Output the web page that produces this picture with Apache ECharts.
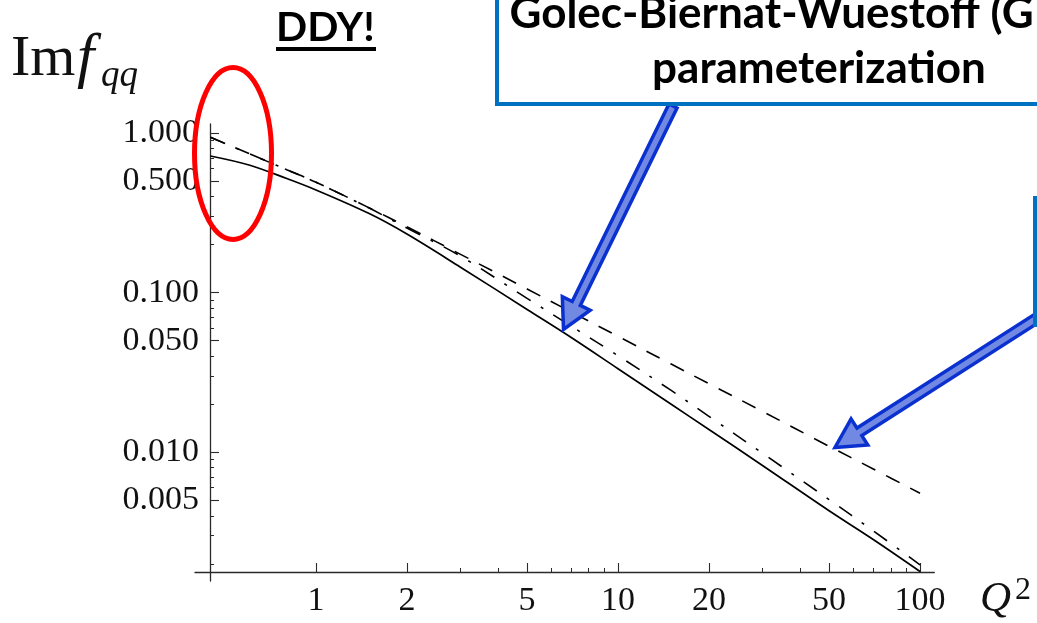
<!DOCTYPE html>
<html>
<head>
<meta charset="utf-8">
<script src="https://cdn.jsdelivr.net/npm/echarts@6/dist/echarts.min.js"></script>
<style>
  html, body { margin: 0; padding: 0; background: #fff; }
  #chart { width: 1037px; height: 623px; }
</style>
</head>
<body>
<div id="chart"></div>
<script>
// Q^2 sample points and the three Im f_qq curves
const q2 = [0.447, 0.6, 0.8, 1, 1.5, 2, 3, 5, 7, 10, 15, 20, 30, 50, 70, 100];
const imSolid = [0.719, 0.631, 0.519, 0.440, 0.313, 0.233, 0.145, 0.0785, 0.0524, 0.0334, 0.0200, 0.0139, 0.0083, 0.0043, 0.00284, 0.00179];
const imDashed = [0.941, 0.744, 0.590, 0.492, 0.340, 0.259, 0.1745, 0.1055, 0.0757, 0.0533, 0.0357, 0.0269, 0.0181, 0.0109, 0.00786, 0.00554];
const imDashDot = [0.941, 0.744, 0.590, 0.492, 0.339, 0.254, 0.170, 0.0921, 0.0617, 0.0403, 0.0244, 0.0168, 0.0099, 0.00505, 0.00322, 0.00197];

const xMajorTicks = [1, 2, 5, 10, 20, 50, 100];
const xMinorTicks = [3, 4, 6, 7, 8, 9, 30, 40, 60, 70, 80, 90];
const yMajorTicks = [0.005, 0.01, 0.05, 0.1, 0.5, 1];
const yMinorTicks = [0.002, 0.003, 0.004, 0.006, 0.007, 0.008, 0.009,
  0.02, 0.03, 0.04, 0.06, 0.07, 0.08, 0.09,
  0.2, 0.3, 0.4, 0.6, 0.7, 0.8, 0.9];

const X_MIN = 0.3975, X_MAX = 111.5;
const Y_MIN = 0.001561, Y_MAX = 1.1403;

const SERIF = '"Liberation Serif", "DejaVu Serif", serif';
const SANS = 'Lato, "Open Sans", sans-serif';
const AXIS_COLOR = '#2a2a2a';
const log10 = Math.log10;

const chart = echarts.init(document.getElementById('chart'));

function pairs(ys) {
  return q2.map((x, i) => [x, ys[i]]);
}

// block arrow polygon from (x0,y0) to tip (x1,y1)
function blockArrow(x0, y0, x1, y1) {
  const dx = x1 - x0, dy = y1 - y0, L = Math.hypot(dx, dy);
  const ux = dx / L, uy = dy / L, nx = -uy, ny = ux;
  const sw = 4.5, hw = 15.5, hl = 29;
  const bx = x1 - ux * hl, by = y1 - uy * hl;
  return [
    [x0 + nx * sw, y0 + ny * sw], [bx + nx * sw, by + ny * sw], [bx + nx * hw, by + ny * hw],
    [x1, y1],
    [bx - nx * hw, by - ny * hw], [bx - nx * sw, by - ny * sw], [x0 - nx * sw, y0 - ny * sw]
  ];
}

// value axes in log10 space that only carry ticks/labels for the log data axes
function tickAxis(dim, extra) {
  const lo = dim === 'x' ? log10(X_MIN) : log10(Y_MIN);
  const hi = dim === 'x' ? log10(X_MAX) : log10(Y_MAX);
  return Object.assign({
    type: 'value', min: lo, max: hi,
    position: dim === 'x' ? 'bottom' : 'left',
    offset: dim === 'x' ? -9 : -15,
    splitLine: { show: false },
    axisLine: { show: false, onZero: false },
    axisLabel: { show: false }
  }, extra);
}

const arrowStyle = { fill: '#7189e2', stroke: '#0a31cf', lineWidth: 3.5, lineJoin: 'miter' };
const boxStyle = { fill: 'transparent', stroke: '#0070c0', lineWidth: 4 };

chart.setOption({
  animation: false,
  backgroundColor: '#fff',
  grid: { left: 195, top: 124, width: 739.3, height: 457, containLabel: false, outerBoundsMode: 'none' },
  xAxis: [
    { type: 'log', min: X_MIN, max: X_MAX, show: false },
    tickAxis('x', {
      axisLine: { show: true, onZero: false, lineStyle: { color: AXIS_COLOR, width: 1.3 } },
      axisTick: { inside: true, length: 9, customValues: xMajorTicks.map(log10), lineStyle: { color: AXIS_COLOR, width: 1.1 } },
      axisLabel: {
        show: true, customValues: xMajorTicks.map(log10), margin: 12,
        fontFamily: SERIF, fontSize: 34, color: '#111',
        formatter: v => String(Math.round(Math.pow(10, v)))
      }
    }),
    tickAxis('x', {
      axisTick: { inside: true, length: 4, customValues: xMinorTicks.map(log10), lineStyle: { color: AXIS_COLOR, width: 1 } }
    })
  ],
  yAxis: [
    { type: 'log', min: Y_MIN, max: Y_MAX, show: false },
    tickAxis('y', {
      axisLine: { show: true, onZero: false, lineStyle: { color: AXIS_COLOR, width: 1.3 } },
      axisTick: { inside: true, length: 9, customValues: yMajorTicks.map(log10), lineStyle: { color: AXIS_COLOR, width: 1.1 } },
      axisLabel: {
        show: true, customValues: yMajorTicks.map(log10), margin: 11,
        fontFamily: SERIF, fontSize: 34, color: '#111',
        formatter: v => Math.pow(10, v).toFixed(3)
      }
    }),
    tickAxis('y', {
      axisTick: { inside: true, length: 4, customValues: yMinorTicks.map(log10), lineStyle: { color: AXIS_COLOR, width: 1 } }
    })
  ],
  series: [
    {
      name: 'solid', type: 'line', xAxisIndex: 0, yAxisIndex: 0, data: pairs(imSolid),
      symbol: 'none', smooth: 0.35, lineStyle: { color: '#000', width: 1.7 }, z: 3
    },
    {
      name: 'dashed', type: 'line', xAxisIndex: 0, yAxisIndex: 0, data: pairs(imDashed),
      symbol: 'none', smooth: 0.35, lineStyle: { color: '#000', width: 1.6, type: [15, 12] }, z: 3
    },
    {
      name: 'dashdot', type: 'line', xAxisIndex: 0, yAxisIndex: 0, data: pairs(imDashDot),
      symbol: 'none', smooth: 0.35, lineStyle: { color: '#000', width: 1.6, type: [16, 12, 3, 12] }, z: 3
    }
  ],
  graphic: [
    // axis titles
    { type: 'text', x: 11, y: 60, z: 50, style: { text: 'Im', fontFamily: SERIF, fontSize: 58, fill: '#111', align: 'left', verticalAlign: 'middle' } },
    { type: 'text', x: 77, y: 60, z: 50, style: { text: 'f', fontFamily: SERIF, fontStyle: 'italic', fontSize: 62, fill: '#111', align: 'left', verticalAlign: 'middle' } },
    { type: 'text', x: 101, y: 76, z: 50, style: { text: 'qq', fontFamily: SERIF, fontStyle: 'italic', fontSize: 37, fill: '#111', align: 'left', verticalAlign: 'middle' } },
    { type: 'text', x: 980, y: 600, z: 50, style: { text: 'Q', fontFamily: SERIF, fontStyle: 'italic', fontSize: 43, fill: '#111', align: 'left', verticalAlign: 'middle' } },
    { type: 'text', x: 1015, y: 591, z: 50, style: { text: '2', fontFamily: SERIF, fontSize: 32, fill: '#111', align: 'left', verticalAlign: 'middle' } },

    // DDY! label
    { type: 'text', x: 276, y: 28, z: 50, style: { text: 'DDY!', fontFamily: SANS, fontWeight: 'bold', fontSize: 41, fill: '#000', align: 'left', verticalAlign: 'middle' } },
    { type: 'rect', z: 50, shape: { x: 276, y: 47, width: 100, height: 4 }, style: { fill: '#000' } },

    // red ellipse
    { type: 'ellipse', z: 60, shape: { cx: 233, cy: 153.5, rx: 38.5, ry: 86 }, style: { fill: 'transparent', stroke: '#ff0000', lineWidth: 5 } },

    // arrows
    { type: 'polygon', z: 60, shape: { points: blockArrow(673, 106, 563.5, 329.5) }, style: arrowStyle },
    { type: 'polygon', z: 60, shape: { points: blockArrow(1045, 313, 835, 447.5) }, style: arrowStyle },

    // callout boxes
    { type: 'rect', z: 70, shape: { x: 497, y: -20, width: 700, height: 124 }, style: boxStyle },
    { type: 'rect', z: 70, shape: { x: 1035, y: 198, width: 200, height: 127 }, style: boxStyle },
    { type: 'text', x: 815, y: 13.5, z: 70, style: { text: 'Golec-Biernat-Wuestoff (GBW)', fontFamily: SANS, fontWeight: 'bold', fontSize: 44, fill: '#000', align: 'center', verticalAlign: 'middle' } },
    { type: 'text', x: 819, y: 68.5, z: 70, style: { text: 'parameterization', fontFamily: SANS, fontWeight: 'bold', fontSize: 44, fill: '#000', align: 'center', verticalAlign: 'middle' } }
  ]
});
</script>
</body>
</html>
